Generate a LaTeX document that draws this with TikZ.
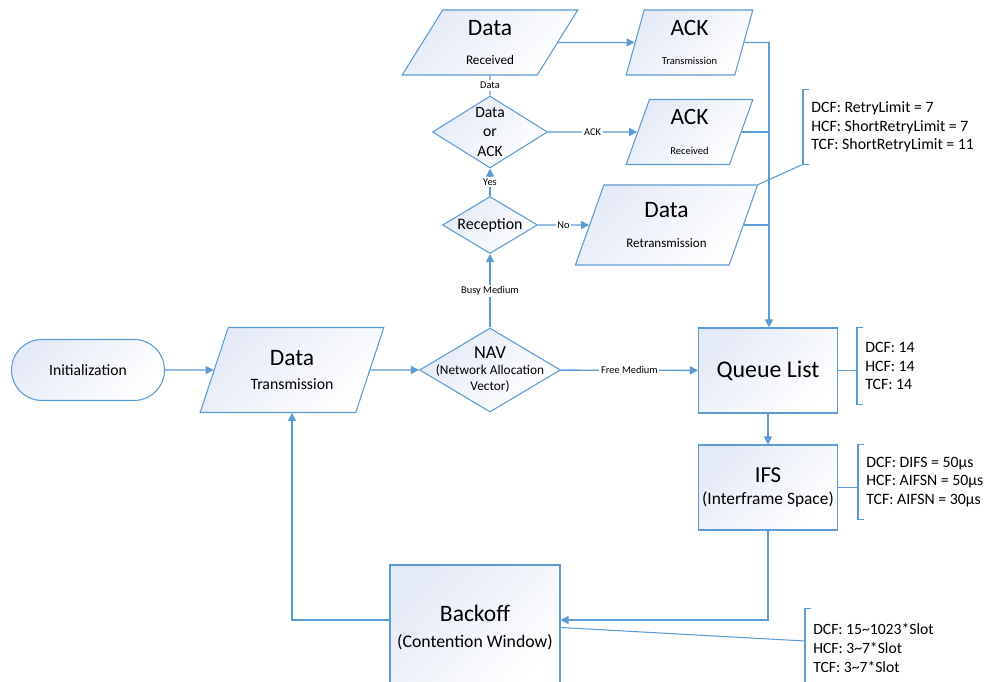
\documentclass[tikz,border=0pt]{standalone}
\usepackage{fontspec}
\setmainfont{Carlito}
\usepackage{xcolor}
\usepackage{tikz}
\usetikzlibrary{shapes.geometric,arrows.meta,positioning}

\definecolor{linec}{RGB}{91,155,213}
\definecolor{fillc}{RGB}{228,234,247}
\newcommand{\fs}[2]{\fontsize{#1}{#2}\selectfont}

\begin{document}
\begin{tikzpicture}[
    x=0.02cm, y=-0.02cm,
    shaded/.style={draw=linec, line width=0.6pt, top color=fillc, bottom color=white, shading angle=45, inner sep=0pt, align=center},
    term/.style={shaded, rectangle, rounded corners=0.61cm, minimum width=3.06cm, minimum height=1.22cm, font=\fs{8.9}{11}},
    box/.style={shaded, rectangle, minimum width=2.78cm, minimum height=1.7cm},
    io/.style={shaded, trapezium, trapezium stretches=true},
    decision/.style={shaded, diamond},
    dtext/.style={align=center, inner sep=0pt},
    note/.style={align=left, anchor=west, inner xsep=0.16cm, inner ysep=0pt, font=\fs{9}{10.7}},
    lbl/.style={fill=white, text=black, inner sep=1pt, font=\fs{5.9}{7}},
    line/.style={linec, line width=0.75pt},
    arrow/.style={linec, line width=0.75pt, ->, >={Triangle[length=1.6mm, width=1.6mm]}}
]
\useasboundingbox (0,0) rectangle (988,682);

% Start
\node[term] (init) at (88,370) {Initialization};

% Transmission
\node[io, trapezium left angle=65, trapezium right angle=115, minimum width=3.68cm, minimum height=1.7cm, font=\fs{9}{13.6}] (data_tx) at (292,370) {{\fs{13.4}{13.6}Data}\\Transmission};

% NAV
\node[decision, minimum width=2.82cm, minimum height=1.68cm] (nav) at (490,370) {};
\node[dtext, font=\fs{7.6}{9.1}] (nav_txt) at (nav) {{\fs{10.4}{9.1}NAV}\\(Network Allocation\\Vector)};

% Reception
\node[decision, minimum width=1.9cm, minimum height=1.14cm] (reception) at (490,225) {};
\node[dtext, font=\fs{9.1}{11}] (reception_txt) at (reception) {Reception};

% Data or ACK
\node[decision, minimum width=2.3cm, minimum height=1.44cm] (data_or_ack) at (490,132) {};
\node[dtext, font=\fs{8.9}{11}] (data_or_ack_txt) at (data_or_ack) {Data\\or\\ACK};

% Received / sent frames
\node[io, trapezium left angle=65, trapezium right angle=115, minimum width=3.52cm, minimum height=1.3cm, font=\fs{7.5}{16.4}] (data_rx) at (490,42.5) {{\fs{13.4}{16.4}Data}\\Received};
\node[io, trapezium left angle=76, trapezium right angle=104, minimum width=2.54cm, minimum height=1.3cm, font=\fs{6}{16.4}] (ack_tx) at (689.5,42.5) {{\fs{13.3}{16.4}ACK}\\Transmission};
\node[io, trapezium left angle=76, trapezium right angle=104, minimum width=2.54cm, minimum height=1.3cm, font=\fs{6}{16.8}] (ack_rx) at (689.5,132) {{\fs{13.3}{16.8}ACK}\\Received};
\node[io, trapezium left angle=68, trapezium right angle=112, minimum width=3.66cm, minimum height=1.6cm, font=\fs{7.4}{17}] (data_retx) at (666.5,225) {{\fs{13.4}{17}Data}\\Retransmission};

% Queue, IFS, Backoff
\node[box, font=\fs{13.6}{16}] (queue) at (768,370.5) {Queue List};
\node[box, font=\fs{9.9}{12.5}] (ifs) at (768,487.5) {{\fs{13}{12.5}IFS}\\(Interframe Space)};
\node[box, minimum width=3.4cm, minimum height=2.5cm, font=\fs{10.1}{15.3}] (backoff) at (475,627.5) {{\fs{13.4}{15.3}Backoff}\\(Contention Window)};

% Notes
\node[note, minimum height=1.48cm] (retry_note) at (803,127) {DCF: RetryLimit = 7\\HCF: ShortRetryLimit = 7\\TCF: ShortRetryLimit = 11};
\node[note, minimum height=1.52cm, font=\fs{9}{10.5}] (queue_note) at (857,366) {DCF: 14\\HCF: 14\\TCF: 14};
\node[note, minimum height=1.5cm] (ifs_note) at (858,482) {DCF: DIFS = 50µs\\HCF: AIFSN = 50µs\\TCF: AIFSN = 30µs};
\node[note, minimum height=1.56cm, font=\fs{8.9}{11}] (backoff_note) at (805,648) {DCF: 15\textasciitilde1023*Slot\\HCF: 3\textasciitilde7*Slot\\TCF: 3\textasciitilde7*Slot};

% Arrows
\draw[arrow] (init) -- (data_tx);
\draw[arrow] (data_tx) -- (nav);
\draw[arrow] (nav) -- node[lbl] {Free Medium} (queue);
\draw[arrow] (nav) -- node[lbl] {Busy Medium} (reception);
\draw[arrow] (reception) -- node[lbl] {No} (data_retx);
\draw[arrow] (reception) -- node[lbl] {Yes} (data_or_ack);
\draw[arrow] (data_or_ack) -- node[lbl] {ACK} (ack_rx);
\draw[line] (data_or_ack) -- node[lbl] {Data} (data_rx);
\draw[arrow] (data_rx) -- (ack_tx);

% Bus into the queue
\coordinate (bus_top) at (769,42.5);
\draw[line] (ack_tx.east) -- (bus_top);
\draw[line] (ack_rx.east) -- (ack_rx.east -| bus_top);
\draw[line] (data_retx.east) -- (data_retx.east -| bus_top);
\draw[arrow] (bus_top) -- (bus_top |- queue.north);

\draw[arrow] (queue) -- (ifs);
\draw[arrow] (ifs.south) |- ([yshift=0.15cm]backoff.east);
\draw[arrow] ([yshift=0.15cm]backoff.west) -| (data_tx.south);

% Note brackets
\foreach \n in {retry_note, queue_note, ifs_note, backoff_note}
  \draw[linec, line width=0.6pt] ([xshift=0.12cm]\n.north west) -- (\n.north west) -- (\n.south west) -- ([xshift=0.12cm]\n.south west);
\draw[linec, line width=0.6pt] (retry_note.south west) -- (data_retx.top right corner);
\draw[linec, line width=0.6pt] (queue.east) -- (queue.east -| queue_note.west);
\draw[linec, line width=0.6pt] (ifs.east) -- (ifs.east -| ifs_note.west);
\draw[linec, line width=0.6pt] (backoff.east) -- ([yshift=0.14cm]backoff_note.west);

\end{tikzpicture}
\end{document}
